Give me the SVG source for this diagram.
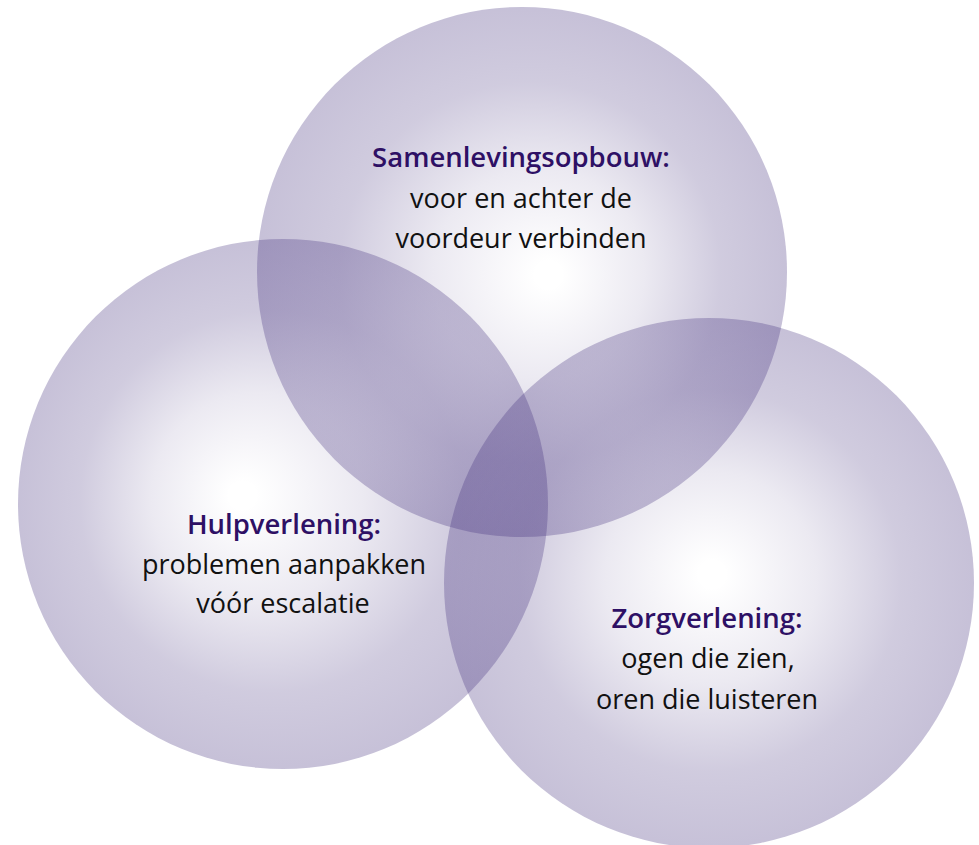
<svg xmlns="http://www.w3.org/2000/svg" width="979" height="845" viewBox="0 0 979 845">
  <style>
    .h { font-family: "Open Sans", "Noto Sans", sans-serif; font-size: 27.5px; font-weight: 600; fill: #2e1065; text-anchor: middle; }
    .t { font-family: "Open Sans", "Noto Sans", sans-serif; font-size: 27px; font-weight: 400; fill: #111111; text-anchor: middle; }
  </style>
  <defs>
    <radialGradient id="gTop" cx="0.5" cy="0.5" r="0.5" fx="0.553" fy="0.506">
      <stop offset="0" stop-color="#3c2878" stop-opacity="0"/>
      <stop offset="0.05" stop-color="#3c2878" stop-opacity="0"/>
      <stop offset="0.4" stop-color="#3c2878" stop-opacity="0.1"/>
      <stop offset="0.72" stop-color="#3c2878" stop-opacity="0.24"/>
      <stop offset="1" stop-color="#3c2878" stop-opacity="0.29"/>
    </radialGradient>
    <radialGradient id="gLeft" cx="0.5" cy="0.5" r="0.5" fx="0.419" fy="0.483">
      <stop offset="0" stop-color="#3c2878" stop-opacity="0"/>
      <stop offset="0.05" stop-color="#3c2878" stop-opacity="0"/>
      <stop offset="0.4" stop-color="#3c2878" stop-opacity="0.1"/>
      <stop offset="0.72" stop-color="#3c2878" stop-opacity="0.24"/>
      <stop offset="1" stop-color="#3c2878" stop-opacity="0.29"/>
    </radialGradient>
    <radialGradient id="gRight" cx="0.5" cy="0.5" r="0.5" fx="0.506" fy="0.483">
      <stop offset="0" stop-color="#3c2878" stop-opacity="0"/>
      <stop offset="0.05" stop-color="#3c2878" stop-opacity="0"/>
      <stop offset="0.4" stop-color="#3c2878" stop-opacity="0.1"/>
      <stop offset="0.72" stop-color="#3c2878" stop-opacity="0.24"/>
      <stop offset="1" stop-color="#3c2878" stop-opacity="0.29"/>
    </radialGradient>
  </defs>
  <rect width="979" height="845" fill="#ffffff"/>
  <g id="samenlevingsopbouw">
    <circle cx="522" cy="272" r="265" fill="url(#gTop)"/>
  </g>
  <g id="hulpverlening">
    <circle cx="283" cy="504" r="265" fill="url(#gLeft)"/>
  </g>
  <g id="zorgverlening">
    <circle cx="709" cy="583" r="265" fill="url(#gRight)"/>
  </g>
  <g id="labels">
    <text class="h" x="521" y="167">Samenlevingsopbouw:</text>
    <text class="t" x="521" y="208">voor en achter de</text>
    <text class="t" x="521" y="248">voordeur verbinden</text>
    <text class="h" x="284" y="534">Hulpverlening:</text>
    <text class="t" x="284" y="574">problemen aanpakken</text>
    <text class="t" x="283" y="613">vóór escalatie</text>
    <text class="h" x="707" y="628">Zorgverlening:</text>
    <text class="t" x="708" y="668">ogen die zien,</text>
    <text class="t" x="707" y="709">oren die luisteren</text>
  </g>
  <g id="connectors"/>
</svg>
